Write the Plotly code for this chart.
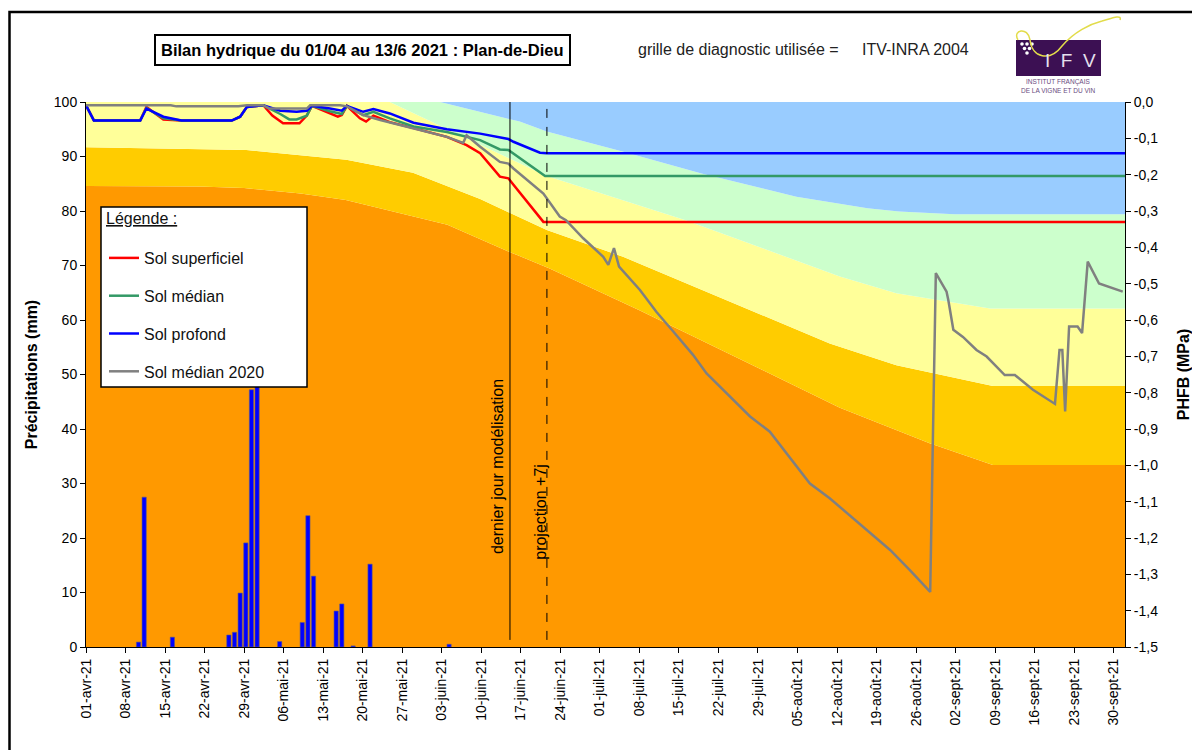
import pandas as pd
import plotly.graph_objects as go

FONT = "Arial, Liberation Sans, sans-serif"
DEBUT = pd.Timestamp("2021-04-01")
JOUR_MS = 86400000

# précipitations journalières (mm)
pluie_dates = ["2021-04-10", "2021-04-11", "2021-04-16", "2021-04-26", "2021-04-27",
               "2021-04-28", "2021-04-29", "2021-04-30", "2021-05-01", "2021-05-05",
               "2021-05-09", "2021-05-10", "2021-05-11", "2021-05-15", "2021-05-16",
               "2021-05-18", "2021-05-21", "2021-06-04"]
pluie_mm = [0.9, 27.5, 1.8, 2.2, 2.7, 9.9, 19.1, 47.2, 52.0, 1.0,
            4.5, 24.1, 13.0, 6.6, 7.9, 0.2, 15.2, 0.5]

# limites des classes de contrainte (jours depuis le 01/04, mm)
orange_j = [0, 20, 28, 38, 46, 52, 64, 75, 82, 98, 116, 133.5, 149.4, 160.6, 184]
orange_mm = [84.6, 84.5, 84.2, 83.2, 82.0, 80.5, 77.5, 72.5, 69.5, 61.8, 52.7, 43.9, 37.4, 33.4, 33.4]
or_j = [0, 28.4, 46.1, 57.9, 69.8, 81.6, 95.1, 113.3, 131.7, 143.5, 160.6, 184]
or_mm = [91.7, 91.2, 89.4, 87.0, 82.2, 76.5, 71.6, 63.7, 55.7, 51.7, 47.9, 47.9]
jaune_j = [0, 53.8, 81.6, 106.2, 133.5, 143.5, 160.1, 184]
jaune_mm = [100, 100, 86.4, 78.3, 68.0, 64.9, 62.1, 62.1]
vert_j = [0, 62.7, 76.8, 81.6, 95.0, 109.0, 125.8, 138.4, 144.0, 153.8, 184]
vert_mm = [100, 100, 96.4, 94.6, 90.9, 86.9, 82.6, 80.5, 79.9, 79.4, 79.4]
bleu_j = [0, 184]
bleu_mm = [100, 100]

# bilans hydriques (jours depuis le 01/04, mm)
superficiel_j = [0, 1.4, 9.6, 10.7, 13.7, 16.9, 25.8, 27.3, 28.5, 31.4, 33.0, 34.9, 37.8, 39.1,
                 40.0, 43.2, 44.6, 45.3, 46.2, 48.5, 49.6, 50.9, 53.8, 58.0, 63.9, 67.4, 69.8,
                 73.3, 74.8, 75.7, 81.0, 184]
superficiel_mm = [99.4, 96.6, 96.6, 99.1, 96.8, 96.6, 96.6, 97.3, 99.1, 99.4, 97.5, 96.1, 96.1, 97.5,
                  99.3, 98.0, 97.3, 97.6, 99.3, 97.0, 96.4, 97.5, 96.3, 95.2, 93.6, 92.1, 90.6,
                  86.3, 86.0, 84.8, 78.0, 78.0]
median_j = [0, 1.4, 9.6, 10.7, 13.7, 16.9, 25.8, 27.3, 28.5, 31.4, 34.4, 36.0, 37.3, 39.1,
            40.0, 43.2, 45.3, 46.2, 49.1, 50.9, 53.8, 58.0, 63.9, 69.8, 73.3, 74.8, 81.3, 184]
median_mm = [99.4, 96.6, 96.6, 98.9, 97.0, 96.6, 96.6, 97.3, 99.1, 99.4, 97.8, 96.8, 96.8, 97.5,
             99.3, 98.3, 97.8, 99.3, 97.6, 98.2, 97.0, 95.5, 94.5, 93.0, 91.3, 91.2, 86.4, 86.4]
profond_j = [0, 1.4, 9.6, 10.7, 13.7, 16.9, 25.8, 27.3, 28.5, 31.4, 34.4, 37.3, 39.1, 40.0,
             43.2, 45.3, 46.2, 49.1, 50.9, 53.8, 58.0, 63.9, 69.8, 74.8, 75.7, 80.4, 81.6, 184]
profond_mm = [99.4, 96.6, 96.6, 98.8, 97.3, 96.6, 96.6, 97.3, 99.1, 99.4, 98.4, 98.2, 98.4, 99.3,
              98.8, 98.4, 99.3, 98.2, 98.7, 97.9, 96.2, 95.0, 94.2, 93.2, 92.7, 90.7, 90.6, 90.6]
median2020_j = [0, 15, 16, 27, 28.5, 31.4, 32.5, 39.1, 39.7, 45, 46.2, 49.1, 52.1, 58, 63.9,
                66.8, 67.4, 69.8, 73.3, 74.8, 75.7, 81.0, 83.9, 85.0, 88.05, 91.6, 92.5, 93.5,
                94.4, 98.1, 101.0, 104.0, 107.5, 109.9, 113.4, 117.6, 121.1, 124.6, 128.2,
                131.7, 137.6, 142.4, 145.9, 149.5, 150.5, 152.4, 152.7, 153.6, 155.3, 157.7,
                159.5, 162.7, 164.5, 167.7, 171.6, 172.4, 172.9, 173.4, 174.1, 175.6, 176.4,
                177.4, 179.4, 183.6]
median2020_mm = [99.4, 99.4, 99.2, 99.2, 99.4, 99.4, 98.8, 98.8, 99.4, 99.4, 99.2, 97.6, 96.7,
                 95.2, 93.6, 92.5, 93.9, 91.8, 89.0, 88.7, 87.8, 83.2, 79.0, 78.3, 75.0, 71.6,
                 70.1, 73.2, 69.8, 65.5, 61.5, 57.9, 53.6, 50.2, 46.6, 42.3, 39.5, 34.9, 30.0,
                 27.3, 22.1, 17.8, 14.1, 10.1, 68.6, 65.2, 63.7, 58.2, 56.9, 54.5, 53.3, 49.9,
                 49.9, 47.2, 44.6, 54.5, 54.5, 43.2, 58.8, 58.8, 57.6, 70.7, 66.7, 65.2]

dernier_jour = pd.Timestamp("2021-06-15 02:00")
projection = pd.Timestamp("2021-06-21 15:00")

phfb_vals = [0.0, -0.1, -0.2, -0.3, -0.4, -0.5, -0.6, -0.7, -0.8, -0.9, -1.0, -1.1, -1.2, -1.3, -1.4, -1.5]
phfb_text = ["0,0", "-0,1", "-0,2", "-0,3", "-0,4", "-0,5", "-0,6", "-0,7", "-0,8", "-0,9",
             "-1,0", "-1,1", "-1,2", "-1,3", "-1,4", "-1,5"]
mois = {4: "avr", 5: "mai", 6: "juin", 7: "juil", 8: "août", 9: "sept"}


def jours(j):
    return DEBUT + pd.to_timedelta(j, unit="D")


# pixel de la fenêtre -> coordonnées papier (zone de tracé 86..1125 x 102..647)
def px_x(p):
    return (p - 86) / 1039


def px_y(p):
    return (647 - p) / 545


def texte(x, y, txt, taille, **kw):
    kw.setdefault("xanchor", "center")
    fig.add_annotation(x=px_x(x), y=px_y(y), xref="paper", yref="paper", showarrow=False,
                       yanchor="middle", text=txt, font=dict(size=taille, color=kw.pop("color", "black")),
                       **kw)


fig = go.Figure()

bandes = [
    (orange_j, orange_mm, "#FF9900", "tozeroy"),
    (or_j, or_mm, "#FFCC00", "tonexty"),
    (jaune_j, jaune_mm, "#FFFF99", "tonexty"),
    (vert_j, vert_mm, "#CCFFCC", "tonexty"),
    (bleu_j, bleu_mm, "#99CCFF", "tonexty"),
]
for j, mm, couleur, remplissage in bandes:
    fig.add_trace(go.Scatter(
        x=jours(j), y=mm, mode="lines", line=dict(width=0, color=couleur),
        fill=remplissage, fillcolor=couleur, showlegend=False, hoverinfo="skip",
    ))

fig.add_trace(go.Bar(
    x=pd.to_datetime(pluie_dates), y=pluie_mm, yaxis="y3",
    marker=dict(color="#0000FF", line=dict(color="#5a5a8a", width=0.6)),
    width=0.75 * JOUR_MS, offset=-0.075 * JOUR_MS, showlegend=False,
))

series = [
    ("Sol superficiel", superficiel_j, superficiel_mm, "#FF0000"),
    ("Sol médian", median_j, median_mm, "#339966"),
    ("Sol profond", profond_j, profond_mm, "#0000FF"),
    ("Sol médian 2020", median2020_j, median2020_mm, "#808080"),
]
for nom, j, mm, couleur in series:
    fig.add_trace(go.Scatter(
        x=jours(j), y=mm, yaxis="y3", mode="lines", name=nom, legendgroup=nom,
        line=dict(color=couleur, width=2.5),
    ))

fig.add_trace(go.Scatter(x=[DEBUT], y=[None], yaxis="y2", showlegend=False, hoverinfo="skip"))

# lignes verticales
fig.add_shape(type="line", xref="x", yref="y", x0=dernier_jour, x1=dernier_jour, y0=1.3, y1=100,
              line=dict(color="black", width=1))
fig.add_shape(type="line", xref="x", yref="y", x0=projection, x1=projection, y0=1.3, y1=100,
              line=dict(color="black", width=1, dash="dash"))
fig.add_annotation(x=dernier_jour, y=33.2, xref="x", yref="y", text="dernier jour modélisation",
                   textangle=-90, showarrow=False, xshift=-13, font=dict(size=16))
fig.add_annotation(x=projection, y=24.8, xref="x", yref="y", text="projection +7j",
                   textangle=-90, showarrow=False, xshift=-6, font=dict(size=16))

# cadre de la légende
fig.add_shape(type="rect", xref="paper", yref="paper", x0=px_x(101), x1=px_x(307), y0=px_y(387),
              y1=px_y(207), fillcolor="white", line=dict(color="black", width=1.5), layer="above")
texte(104, 219, "<span style='text-decoration:underline'>Légende :</span>", 16, xanchor="left",
      color="#111")

# cadre général (la page commence à 8 px)
fig.add_shape(type="rect", xref="paper", yref="paper", x0=px_x(9.5), x1=px_x(1215), y0=px_y(765),
              y1=px_y(12), line=dict(color="black", width=2.5))

# titre
texte(362.5, 49.5, "<b>Bilan hydrique du 01/04 au 13/6 2021 : Plan-de-Dieu</b>", 16.5,
      bgcolor="white", bordercolor="black", borderwidth=2, borderpad=5)
texte(636, 49, "grille de diagnostic utilisée =", 16, xanchor="left", color="#222")
texte(860, 49, "ITV-INRA 2004", 16, xanchor="left", color="#222")

# logo IFV
fig.add_shape(type="rect", xref="paper", yref="paper", x0=px_x(1016), x1=px_x(1101), y0=px_y(76),
              y1=px_y(40), fillcolor="#3C1053", line=dict(width=0))
for cx, cy in [(1022, 44), (1027, 44), (1032, 44), (1024.5, 48.5), (1029.5, 48.5), (1027, 53)]:
    fig.add_shape(type="circle", xref="paper", yref="paper", x0=px_x(cx - 1.8), x1=px_x(cx + 1.8),
                  y0=px_y(cy + 1.8), y1=px_y(cy - 1.8), fillcolor="white", line=dict(width=0))
trace_logo = [(1018, 40), (1012, 30), (1028, 26), (1030, 40), (1032, 58), (1050, 62), (1062, 46),
              (1074, 32), (1090, 24), (1102, 21), (1112, 18), (1122, 14), (1120, 20)]
chemin = "M {:.4f},{:.4f}".format(px_x(trace_logo[0][0]), px_y(trace_logo[0][1]))
for i in range(1, len(trace_logo), 3):
    chemin += " C " + " ".join("{:.4f},{:.4f}".format(px_x(a), px_y(b)) for a, b in trace_logo[i:i + 3])
fig.add_shape(type="path", xref="paper", yref="paper", path=chemin,
              line=dict(color="#E2DC4A", width=1.5))
texte(1070, 60, "I  F  V", 19, color="#E6E0EE")
texte(1058, 82, "INSTITUT FRANÇAIS", 6.5, color="#6A4C80")
texte(1058, 90, "DE LA VIGNE ET DU VIN", 6.5, color="#6A4C80")

tick_dates = pd.date_range("2021-04-01", "2021-09-30", freq="7D")
tick_text = ["{:02d}-{}-21".format(d.day, mois[d.month]) for d in tick_dates]

axe = dict(ticks="outside", ticklen=5, tickcolor="black", showline=True, linecolor="black",
           linewidth=1, showgrid=False, zeroline=False, tickfont=dict(size=14))

# la page ajoute 8 px de marge : la zone de tracé tombe à 86..1125 x 102..647 dans la fenêtre
fig.update_layout(
    width=1200, height=750, margin=dict(l=78, r=83, t=94, b=111),
    paper_bgcolor="white", plot_bgcolor="white",
    font=dict(family=FONT, size=14, color="black"),
    barmode="overlay",
    xaxis=dict(type="date", range=[DEBUT, jours(184)], tickvals=tick_dates, ticktext=tick_text,
               tickangle=-90, **axe),
    yaxis=dict(range=[0, 100], dtick=10,
               title=dict(text="<b>Précipitations (mm)</b>", font=dict(size=16), standoff=12), **axe),
    yaxis2=dict(overlaying="y", side="right", range=[-1.5, 0], tickvals=phfb_vals, ticktext=phfb_text,
                title=dict(text="<b>PHFB (MPa)</b>", font=dict(size=16), standoff=20), **axe),
    yaxis3=dict(overlaying="y", range=[0, 100], visible=False),
    legend=dict(x=px_x(104), y=px_y(241), xanchor="left", yanchor="top", bgcolor="rgba(0,0,0,0)",
                borderwidth=0, font=dict(size=16, color="#111"), tracegroupgap=14),
)

fig.write_html("out.html")
